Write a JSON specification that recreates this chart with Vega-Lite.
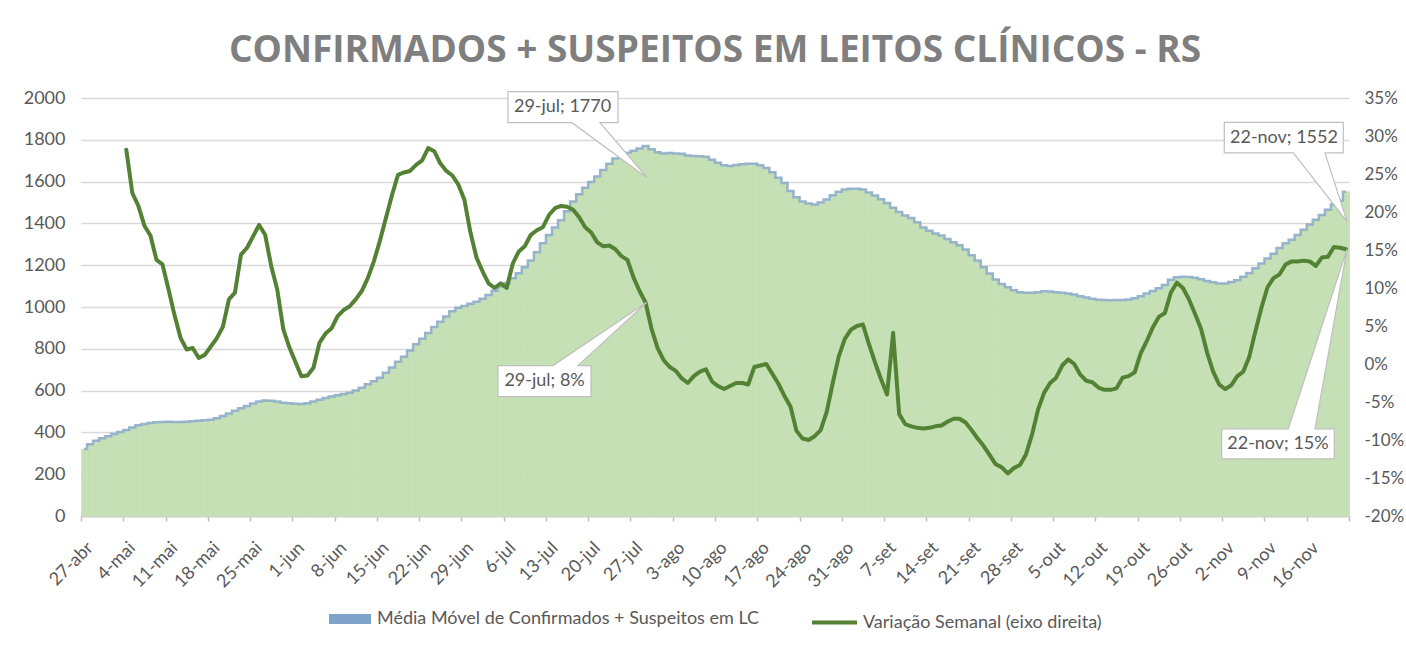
{
  "$schema": "https://vega.github.io/schema/vega-lite/v6.json",
  "width": 1268,
  "height": 418,
  "autosize": "none",
  "padding": {"left": 81, "top": 98, "right": 57, "bottom": 131},
  "background": "white",
  "title": {
    "text": "CONFIRMADOS + SUSPEITOS EM LEITOS CLÍNICOS - RS",
    "font": "Open Sans",
    "fontSize": 37,
    "fontWeight": "bold",
    "color": "#7f7f7f",
    "anchor": "middle",
    "baseline": "alphabetic",
    "offset": -10
  },
  "datasets": {
    "daily": [
      {"d":"2020-04-27","m":320},{"d":"2020-04-28","m":343},{"d":"2020-04-29","m":360},{"d":"2020-04-30","m":372},
      {"d":"2020-05-01","m":382},{"d":"2020-05-02","m":392},{"d":"2020-05-03","m":402},
      {"d":"2020-05-04","m":412,"v":0.282},{"d":"2020-05-05","m":424,"v":0.225},{"d":"2020-05-06","m":434,"v":0.208},
      {"d":"2020-05-07","m":440,"v":0.182},{"d":"2020-05-08","m":445,"v":0.169},{"d":"2020-05-09","m":448,"v":0.137},
      {"d":"2020-05-10","m":450,"v":0.131},{"d":"2020-05-11","m":451,"v":0.098},{"d":"2020-05-12","m":450,"v":0.064},
      {"d":"2020-05-13","m":450,"v":0.034},{"d":"2020-05-14","m":451,"v":0.019},{"d":"2020-05-15","m":453,"v":0.021},
      {"d":"2020-05-16","m":456,"v":0.008},{"d":"2020-05-17","m":458,"v":0.012},{"d":"2020-05-18","m":461,"v":0.023},
      {"d":"2020-05-19","m":468,"v":0.034},{"d":"2020-05-20","m":478,"v":0.049},{"d":"2020-05-21","m":490,"v":0.085},
      {"d":"2020-05-22","m":503,"v":0.094},{"d":"2020-05-23","m":515,"v":0.144},{"d":"2020-05-24","m":526,"v":0.153},
      {"d":"2020-05-25","m":538,"v":0.168},{"d":"2020-05-26","m":548,"v":0.183},{"d":"2020-05-27","m":553,"v":0.170},
      {"d":"2020-05-28","m":552,"v":0.129},{"d":"2020-05-29","m":548,"v":0.098},{"d":"2020-05-30","m":542,"v":0.046},
      {"d":"2020-05-31","m":539,"v":0.022},{"d":"2020-06-01","m":537,"v":0.003},{"d":"2020-06-02","m":536,"v":-0.016},
      {"d":"2020-06-03","m":540,"v":-0.015},{"d":"2020-06-04","m":548,"v":-0.005},{"d":"2020-06-05","m":556,"v":0.028},
      {"d":"2020-06-06","m":564,"v":0.040},{"d":"2020-06-07","m":572,"v":0.047},{"d":"2020-06-08","m":578,"v":0.063},
      {"d":"2020-06-09","m":584,"v":0.071},{"d":"2020-06-10","m":590,"v":0.076},{"d":"2020-06-11","m":600,"v":0.085},
      {"d":"2020-06-12","m":614,"v":0.096},{"d":"2020-06-13","m":630,"v":0.113},{"d":"2020-06-14","m":645,"v":0.135},
      {"d":"2020-06-15","m":662,"v":0.162},{"d":"2020-06-16","m":685,"v":0.192},{"d":"2020-06-17","m":710,"v":0.222},
      {"d":"2020-06-18","m":738,"v":0.249},{"d":"2020-06-19","m":762,"v":0.252},{"d":"2020-06-20","m":792,"v":0.254},
      {"d":"2020-06-21","m":822,"v":0.262},{"d":"2020-06-22","m":848,"v":0.268},{"d":"2020-06-23","m":876,"v":0.284},
      {"d":"2020-06-24","m":904,"v":0.280},{"d":"2020-06-25","m":930,"v":0.264},{"d":"2020-06-26","m":955,"v":0.254},
      {"d":"2020-06-27","m":980,"v":0.248},{"d":"2020-06-28","m":996,"v":0.236},{"d":"2020-06-29","m":1005,"v":0.216},
      {"d":"2020-06-30","m":1015,"v":0.173},{"d":"2020-07-01","m":1025,"v":0.140},{"d":"2020-07-02","m":1040,"v":0.122},
      {"d":"2020-07-03","m":1058,"v":0.106},{"d":"2020-07-04","m":1078,"v":0.100},{"d":"2020-07-05","m":1098,"v":0.106},
      {"d":"2020-07-06","m":1115,"v":0.100},{"d":"2020-07-07","m":1138,"v":0.132},{"d":"2020-07-08","m":1162,"v":0.148},
      {"d":"2020-07-09","m":1190,"v":0.155},{"d":"2020-07-10","m":1222,"v":0.170},{"d":"2020-07-11","m":1262,"v":0.176},
      {"d":"2020-07-12","m":1305,"v":0.180},{"d":"2020-07-13","m":1345,"v":0.196},{"d":"2020-07-14","m":1380,"v":0.205},
      {"d":"2020-07-15","m":1415,"v":0.208},{"d":"2020-07-16","m":1458,"v":0.207},{"d":"2020-07-17","m":1505,"v":0.203},
      {"d":"2020-07-18","m":1540,"v":0.193},{"d":"2020-07-19","m":1570,"v":0.180},{"d":"2020-07-20","m":1598,"v":0.173},
      {"d":"2020-07-21","m":1625,"v":0.160},{"d":"2020-07-22","m":1655,"v":0.155},{"d":"2020-07-23","m":1685,"v":0.156},
      {"d":"2020-07-24","m":1710,"v":0.151},{"d":"2020-07-25","m":1727,"v":0.142},{"d":"2020-07-26","m":1738,"v":0.137},
      {"d":"2020-07-27","m":1748,"v":0.114},{"d":"2020-07-28","m":1758,"v":0.096},{"d":"2020-07-29","m":1770,"v":0.081},
      {"d":"2020-07-30","m":1755,"v":0.046},{"d":"2020-07-31","m":1740,"v":0.021},{"d":"2020-08-01","m":1735,"v":0.005},
      {"d":"2020-08-02","m":1737,"v":-0.004},{"d":"2020-08-03","m":1735,"v":-0.009},{"d":"2020-08-04","m":1733,"v":-0.019},
      {"d":"2020-08-05","m":1725,"v":-0.025},{"d":"2020-08-06","m":1722,"v":-0.016},{"d":"2020-08-07","m":1721,"v":-0.010},
      {"d":"2020-08-08","m":1719,"v":-0.007},{"d":"2020-08-09","m":1705,"v":-0.023},{"d":"2020-08-10","m":1690,"v":-0.029},
      {"d":"2020-08-11","m":1678,"v":-0.033},{"d":"2020-08-12","m":1675,"v":-0.029},{"d":"2020-08-13","m":1680,"v":-0.025},
      {"d":"2020-08-14","m":1683,"v":-0.025},{"d":"2020-08-15","m":1686,"v":-0.027},{"d":"2020-08-16","m":1686,"v":-0.004},
      {"d":"2020-08-17","m":1678,"v":-0.002},{"d":"2020-08-18","m":1665,"v":0.000},{"d":"2020-08-19","m":1645,"v":-0.013},
      {"d":"2020-08-20","m":1618,"v":-0.026},{"d":"2020-08-21","m":1593,"v":-0.042},{"d":"2020-08-22","m":1555,"v":-0.056},
      {"d":"2020-08-23","m":1525,"v":-0.088},{"d":"2020-08-24","m":1505,"v":-0.098},{"d":"2020-08-25","m":1495,"v":-0.100},
      {"d":"2020-08-26","m":1490,"v":-0.095},{"d":"2020-08-27","m":1500,"v":-0.087},{"d":"2020-08-28","m":1514,"v":-0.063},
      {"d":"2020-08-29","m":1535,"v":-0.025},{"d":"2020-08-30","m":1552,"v":0.010},{"d":"2020-08-31","m":1562,"v":0.033},
      {"d":"2020-09-01","m":1566,"v":0.045},{"d":"2020-09-02","m":1566,"v":0.050},{"d":"2020-09-03","m":1562,"v":0.052},
      {"d":"2020-09-04","m":1548,"v":0.026},{"d":"2020-09-05","m":1533,"v":0.002},{"d":"2020-09-06","m":1515,"v":-0.020},
      {"d":"2020-09-07","m":1498,"v":-0.040},{"d":"2020-09-08","m":1475,"v":0.041},{"d":"2020-09-09","m":1455,"v":-0.066},
      {"d":"2020-09-10","m":1438,"v":-0.079},{"d":"2020-09-11","m":1426,"v":-0.082},{"d":"2020-09-12","m":1405,"v":-0.084},
      {"d":"2020-09-13","m":1380,"v":-0.085},{"d":"2020-09-14","m":1365,"v":-0.084},{"d":"2020-09-15","m":1352,"v":-0.082},
      {"d":"2020-09-16","m":1342,"v":-0.081},{"d":"2020-09-17","m":1325,"v":-0.076},{"d":"2020-09-18","m":1310,"v":-0.072},
      {"d":"2020-09-19","m":1295,"v":-0.072},{"d":"2020-09-20","m":1275,"v":-0.077},{"d":"2020-09-21","m":1248,"v":-0.087},
      {"d":"2020-09-22","m":1222,"v":-0.098},{"d":"2020-09-23","m":1190,"v":-0.108},{"d":"2020-09-24","m":1160,"v":-0.120},
      {"d":"2020-09-25","m":1132,"v":-0.132},{"d":"2020-09-26","m":1110,"v":-0.136},{"d":"2020-09-27","m":1095,"v":-0.144},
      {"d":"2020-09-28","m":1080,"v":-0.137},{"d":"2020-09-29","m":1071,"v":-0.133},{"d":"2020-09-30","m":1068,"v":-0.119},
      {"d":"2020-10-01","m":1068,"v":-0.093},{"d":"2020-10-02","m":1070,"v":-0.060},{"d":"2020-10-03","m":1075,"v":-0.038},
      {"d":"2020-10-04","m":1074,"v":-0.025},{"d":"2020-10-05","m":1070,"v":-0.018},{"d":"2020-10-06","m":1068,"v":-0.002},
      {"d":"2020-10-07","m":1065,"v":0.006},{"d":"2020-10-08","m":1060,"v":0.000},{"d":"2020-10-09","m":1052,"v":-0.014},
      {"d":"2020-10-10","m":1045,"v":-0.022},{"d":"2020-10-11","m":1040,"v":-0.024},{"d":"2020-10-12","m":1035,"v":-0.031},
      {"d":"2020-10-13","m":1033,"v":-0.034},{"d":"2020-10-14","m":1032,"v":-0.034},{"d":"2020-10-15","m":1033,"v":-0.032},
      {"d":"2020-10-16","m":1033,"v":-0.018},{"d":"2020-10-17","m":1036,"v":-0.016},{"d":"2020-10-18","m":1042,"v":-0.011},
      {"d":"2020-10-19","m":1052,"v":0.014},{"d":"2020-10-20","m":1064,"v":0.030},{"d":"2020-10-21","m":1076,"v":0.048},
      {"d":"2020-10-22","m":1090,"v":0.062},{"d":"2020-10-23","m":1105,"v":0.067},{"d":"2020-10-24","m":1130,"v":0.094},
      {"d":"2020-10-25","m":1142,"v":0.107},{"d":"2020-10-26","m":1145,"v":0.100},{"d":"2020-10-27","m":1143,"v":0.085},
      {"d":"2020-10-28","m":1140,"v":0.066},{"d":"2020-10-29","m":1133,"v":0.046},{"d":"2020-10-30","m":1125,"v":0.015},
      {"d":"2020-10-31","m":1118,"v":-0.010},{"d":"2020-11-01","m":1113,"v":-0.027},{"d":"2020-11-02","m":1112,"v":-0.033},
      {"d":"2020-11-03","m":1120,"v":-0.028},{"d":"2020-11-04","m":1128,"v":-0.016},{"d":"2020-11-05","m":1145,"v":-0.010},
      {"d":"2020-11-06","m":1163,"v":0.010},{"d":"2020-11-07","m":1185,"v":0.043},{"d":"2020-11-08","m":1208,"v":0.074},
      {"d":"2020-11-09","m":1232,"v":0.101},{"d":"2020-11-10","m":1255,"v":0.113},{"d":"2020-11-11","m":1282,"v":0.118},
      {"d":"2020-11-12","m":1305,"v":0.131},{"d":"2020-11-13","m":1322,"v":0.135},{"d":"2020-11-14","m":1345,"v":0.135},
      {"d":"2020-11-15","m":1370,"v":0.136},{"d":"2020-11-16","m":1395,"v":0.135},{"d":"2020-11-17","m":1418,"v":0.129},
      {"d":"2020-11-18","m":1440,"v":0.140},{"d":"2020-11-19","m":1465,"v":0.141},{"d":"2020-11-20","m":1490,"v":0.154},
      {"d":"2020-11-21","m":1508,"v":0.153},{"d":"2020-11-22","m":1552,"v":0.151}
    ],
    "notes": [
      {"k":1,"d":"2020-07-29","m":1770,"label":"29-jul; 1770"},
      {"k":2,"d":"2020-07-29","v":0.081,"label":"29-jul; 8%"},
      {"k":3,"d":"2020-11-22","m":1552,"label":"22-nov; 1552"},
      {"k":4,"d":"2020-11-22","v":0.151,"label":"22-nov; 15%"}
    ]
  },
  "layer": [
    {
      "data": {"name": "daily"},
      "layer": [
        {
          "mark": {"type": "bar", "binSpacing": 0, "fill": "#c5e0b4", "stroke": "#c5e0b4", "strokeWidth": 0.7},
          "encoding": {
            "x": {
              "field": "d", "type": "temporal", "timeUnit": "utcyearmonthdate", "title": null,
              "scale": {"domain": [{"year":2020,"month":4,"date":27,"utc":true},{"year":2020,"month":11,"date":23,"utc":true}], "nice": false},
              "axis": {
                "values": [
                  {"year":2020,"month":4,"date":27,"utc":true},{"year":2020,"month":5,"date":4,"utc":true},
                  {"year":2020,"month":5,"date":11,"utc":true},{"year":2020,"month":5,"date":18,"utc":true},
                  {"year":2020,"month":5,"date":25,"utc":true},{"year":2020,"month":6,"date":1,"utc":true},
                  {"year":2020,"month":6,"date":8,"utc":true},{"year":2020,"month":6,"date":15,"utc":true},
                  {"year":2020,"month":6,"date":22,"utc":true},{"year":2020,"month":6,"date":29,"utc":true},
                  {"year":2020,"month":7,"date":6,"utc":true},{"year":2020,"month":7,"date":13,"utc":true},
                  {"year":2020,"month":7,"date":20,"utc":true},{"year":2020,"month":7,"date":27,"utc":true},
                  {"year":2020,"month":8,"date":3,"utc":true},{"year":2020,"month":8,"date":10,"utc":true},
                  {"year":2020,"month":8,"date":17,"utc":true},{"year":2020,"month":8,"date":24,"utc":true},
                  {"year":2020,"month":8,"date":31,"utc":true},{"year":2020,"month":9,"date":7,"utc":true},
                  {"year":2020,"month":9,"date":14,"utc":true},{"year":2020,"month":9,"date":21,"utc":true},
                  {"year":2020,"month":9,"date":28,"utc":true},{"year":2020,"month":10,"date":5,"utc":true},
                  {"year":2020,"month":10,"date":12,"utc":true},{"year":2020,"month":10,"date":19,"utc":true},
                  {"year":2020,"month":10,"date":26,"utc":true},{"year":2020,"month":11,"date":2,"utc":true},
                  {"year":2020,"month":11,"date":9,"utc":true},{"year":2020,"month":11,"date":16,"utc":true},
                  {"year":2020,"month":11,"date":23,"utc":true}
                ],
                "tickCount": 40,
                "labelExpr": "(utcmonth(datum.value) == 10 && utcdate(datum.value) == 23) ? '' : utcdate(datum.value) + '-' + ['jan','fev','mar','abr','mai','jun','jul','ago','set','out','nov','dez'][utcmonth(datum.value)]",
                "labelAngle": -45,
                "labelAlign": "right",
                "labelBaseline": "middle",
                "labelOffset": 9,
                "labelPadding": 24,
                "labelFlush": false,
                "labelOverlap": false,
                "labelFontSize": 18,
                "tickSize": 5,
                "tickColor": "#bfbfbf",
                "tickWidth": 1.5,
                "domainColor": "#d0d0d0",
                "domainWidth": 2,
                "grid": false,
                "title": null
              }
            },
            "y": {
              "field": "m", "type": "quantitative", "title": null,
              "scale": {"domain": [0, 2000], "nice": false},
              "axis": {
                "orient": "left",
                "values": [0,200,400,600,800,1000,1200,1400,1600,1800,2000],
                "tickCount": 20,
                "format": "d",
                "grid": true,
                "gridColor": "#d9d9d9",
                "gridWidth": 1.5,
                "domain": false,
                "ticks": false,
                "labelPadding": 16,
                "labelFontSize": 18,
                "labelOverlap": false,
                "title": null
              }
            }
          }
        },
        {
          "transform": [{"filter": "false"}],
          "mark": {"type": "bar"},
          "encoding": {
            "x": {"field": "d", "type": "temporal", "timeUnit": "utcyearmonthdate", "title": null},
            "y": {"field": "m", "type": "quantitative", "title": null},
            "fill": {
              "datum": "Média Móvel de Confirmados + Suspeitos em LC",
              "type": "nominal",
              "scale": {"range": ["#7fa3c9"]},
              "legend": {
                "orient": "bottom",
                "title": null,
                "symbolType": "M-1,-0.24L1,-0.24L1,0.24L-1,0.24Z",
                "symbolSize": 1764,
                "symbolStrokeWidth": 0,
                "labelFontSize": 18,
                "labelLimit": 700,
                "labelOffset": 6,
                "offset": 6
              }
            }
          }
        },
        {
          "mark": {"type": "line", "interpolate": "step", "stroke": "#8eadca", "strokeWidth": 2.5, "opacity": 0.9},
          "encoding": {
            "x": {"field": "d", "type": "temporal", "timeUnit": "utcyearmonthdate", "bandPosition": 0.5, "title": null},
            "y": {"field": "m", "type": "quantitative", "title": null}
          }
        },
        {
          "data": {"name": "notes"},
          "transform": [{"filter": "datum.k == 1"}],
          "layer": [
            {
              "mark": {"type": "point", "shape": "M-1.376,-0.544L-0.276,-0.544L-0.276,-0.234L-0.456,-0.234L0.014,0.316L-0.736,-0.234L-1.376,-0.234Z", "size": 40000, "filled": true, "fill": "white", "stroke": "#bfbfbf", "strokeWidth": 1.2, "opacity": 1},
              "encoding": {
                "x": {"field": "d", "type": "temporal", "timeUnit": "utcyearmonthdate", "bandPosition": 0.5, "title": null},
                "y": {"field": "m", "type": "quantitative", "title": null}
              }
            },
            {
              "mark": {"type": "text", "dx": -83, "dy": -39, "font": "Lato", "fontSize": 18, "color": "#595959", "align": "center", "baseline": "middle"},
              "encoding": {
                "x": {"field": "d", "type": "temporal", "timeUnit": "utcyearmonthdate", "bandPosition": 0.5, "title": null},
                "y": {"field": "m", "type": "quantitative", "title": null},
                "text": {"field": "label"}
              }
            }
          ]
        },
        {
          "data": {"name": "notes"},
          "transform": [{"filter": "datum.k == 3"}],
          "layer": [
            {
              "mark": {"type": "point", "shape": "M-1.217,-0.693L-0.027,-0.693L-0.027,-0.387L-0.21,-0.387L0.01,0.297L-0.527,-0.387L-1.217,-0.387Z", "size": 40000, "filled": true, "fill": "white", "stroke": "#bfbfbf", "strokeWidth": 1.2, "opacity": 1},
              "encoding": {
                "x": {"field": "d", "type": "temporal", "timeUnit": "utcyearmonthdate", "bandPosition": 0.5, "title": null},
                "y": {"field": "m", "type": "quantitative", "title": null}
              }
            },
            {
              "mark": {"type": "text", "dx": -62, "dy": -54, "font": "Lato", "fontSize": 18, "color": "#595959", "align": "center", "baseline": "middle"},
              "encoding": {
                "x": {"field": "d", "type": "temporal", "timeUnit": "utcyearmonthdate", "bandPosition": 0.5, "title": null},
                "y": {"field": "m", "type": "quantitative", "title": null},
                "text": {"field": "label"}
              }
            }
          ]
        }
      ]
    },
    {
      "data": {"name": "daily"},
      "layer": [
        {
          "mark": {"type": "line", "strokeWidth": 4, "strokeJoin": "round", "strokeCap": "round"},
          "encoding": {
            "x": {"field": "d", "type": "temporal", "timeUnit": "utcyearmonthdate", "bandPosition": 0.5, "title": null},
            "y": {
              "field": "v", "type": "quantitative", "title": null,
              "scale": {"domain": [-0.2, 0.35], "nice": false, "zero": false},
              "axis": {
                "orient": "right",
                "values": [-0.2,-0.15,-0.1,-0.05,0,0.05,0.1,0.15,0.2,0.25,0.3,0.34999],
                "tickCount": 20,
                "labelExpr": "round(datum.value * 100) + '%'",
                "grid": false,
                "domain": false,
                "ticks": false,
                "labelPadding": 15,
                "labelFontSize": 17,
                "labelOverlap": false,
                "labelBound": false,
                "title": null
              }
            },
            "stroke": {
              "datum": "Variação Semanal (eixo direita)",
              "type": "nominal",
              "scale": {"range": ["#548235"]},
              "legend": {
                "orient": "bottom",
                "title": null,
                "symbolType": "stroke",
                "symbolSize": 2025,
                "symbolStrokeWidth": 4,
                "labelFontSize": 18,
                "labelLimit": 700,
                "labelOffset": 4,
                "offset": 6
              }
            }
          }
        },
        {
          "data": {"name": "notes"},
          "transform": [{"filter": "datum.k == 2"}],
          "layer": [
            {
              "mark": {"type": "point", "shape": "M-1.476,0.631L-0.926,0.631L0.01,0L-0.676,0.631L-0.546,0.631L-0.546,0.941L-1.476,0.941Z", "size": 40000, "filled": true, "fill": "white", "stroke": "#bfbfbf", "strokeWidth": 1.2, "opacity": 1},
              "encoding": {
                "x": {"field": "d", "type": "temporal", "timeUnit": "utcyearmonthdate", "bandPosition": 0.5, "title": null},
                "y": {"field": "v", "type": "quantitative", "title": null}
              }
            },
            {
              "mark": {"type": "text", "dx": -101, "dy": 79, "font": "Lato", "fontSize": 18, "color": "#595959", "align": "center", "baseline": "middle"},
              "encoding": {
                "x": {"field": "d", "type": "temporal", "timeUnit": "utcyearmonthdate", "bandPosition": 0.5, "title": null},
                "y": {"field": "v", "type": "quantitative", "title": null},
                "text": {"field": "label"}
              }
            }
          ]
        },
        {
          "data": {"name": "notes"},
          "transform": [{"filter": "datum.k == 4"}],
          "layer": [
            {
              "mark": {"type": "point", "shape": "M-1.243,1.796L-0.577,1.796L0.01,0L-0.31,1.796L-0.117,1.796L-0.117,2.096L-1.243,2.096Z", "size": 40000, "filled": true, "fill": "white", "stroke": "#bfbfbf", "strokeWidth": 1.2, "opacity": 1},
              "encoding": {
                "x": {"field": "d", "type": "temporal", "timeUnit": "utcyearmonthdate", "bandPosition": 0.5, "title": null},
                "y": {"field": "v", "type": "quantitative", "title": null}
              }
            },
            {
              "mark": {"type": "text", "dx": -68, "dy": 195, "font": "Lato", "fontSize": 18, "color": "#595959", "align": "center", "baseline": "middle"},
              "encoding": {
                "x": {"field": "d", "type": "temporal", "timeUnit": "utcyearmonthdate", "bandPosition": 0.5, "title": null},
                "y": {"field": "v", "type": "quantitative", "title": null},
                "text": {"field": "label"}
              }
            }
          ]
        }
      ]
    }
  ],
  "resolve": {"scale": {"y": "independent"}},
  "config": {
    "view": {"stroke": null},
    "font": "Lato",
    "axis": {"labelFont": "Lato", "labelColor": "#595959"},
    "legend": {
      "labelFont": "Lato",
      "labelColor": "#595959",
      "layout": {"bottom": {"anchor": "middle", "direction": "horizontal", "margin": 50}}
    }
  }
}
